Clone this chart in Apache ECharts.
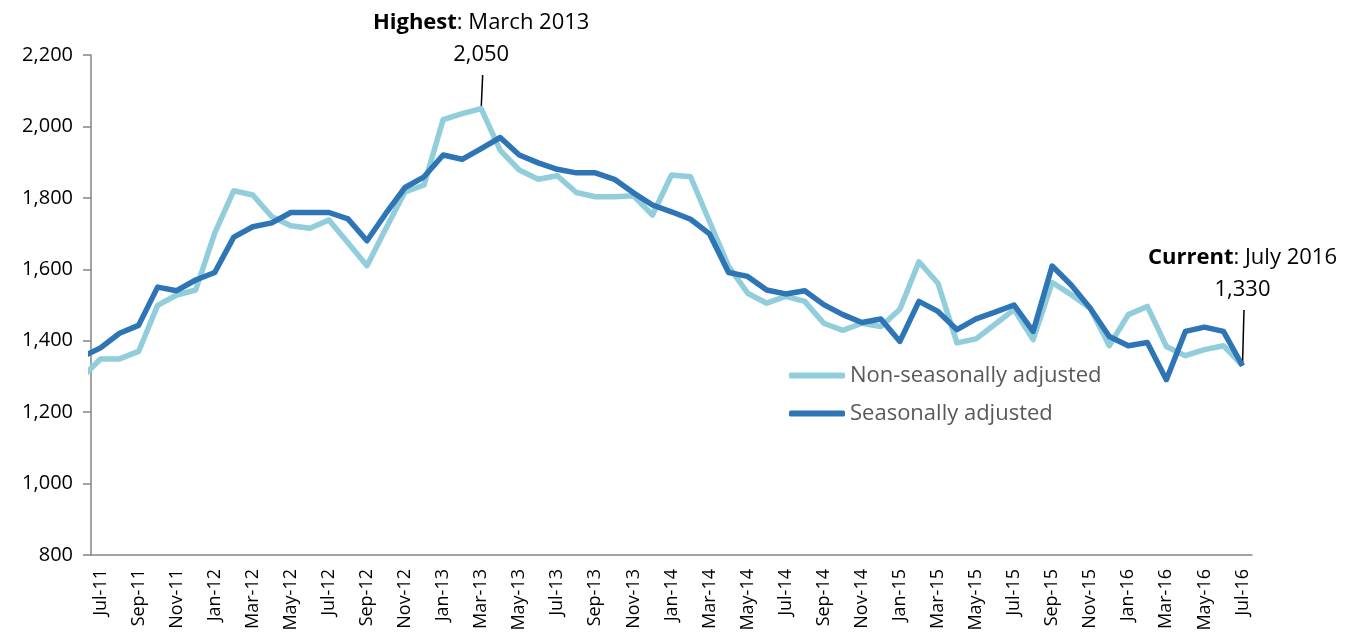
<!DOCTYPE html>
<html>
<head>
<meta charset="utf-8">
<style>
  html, body { margin: 0; padding: 0; background: #fff; }
  #chart { width: 1345px; height: 634px; }
</style>
<script src="https://cdn.jsdelivr.net/npm/echarts@6/dist/echarts.min.js"></script>
</head>
<body>
<div id="chart"></div>
<script>
// Month labels, Jul-11 .. Jul-16
const months = [
    'Jul-11', 'Aug-11', 'Sep-11', 'Oct-11', 'Nov-11', 'Dec-11',
    'Jan-12', 'Feb-12', 'Mar-12', 'Apr-12', 'May-12', 'Jun-12', 'Jul-12', 'Aug-12', 'Sep-12', 'Oct-12', 'Nov-12', 'Dec-12',
    'Jan-13', 'Feb-13', 'Mar-13', 'Apr-13', 'May-13', 'Jun-13', 'Jul-13', 'Aug-13', 'Sep-13', 'Oct-13', 'Nov-13', 'Dec-13',
    'Jan-14', 'Feb-14', 'Mar-14', 'Apr-14', 'May-14', 'Jun-14', 'Jul-14', 'Aug-14', 'Sep-14', 'Oct-14', 'Nov-14', 'Dec-14',
    'Jan-15', 'Feb-15', 'Mar-15', 'Apr-15', 'May-15', 'Jun-15', 'Jul-15', 'Aug-15', 'Sep-15', 'Oct-15', 'Nov-15', 'Dec-15',
    'Jan-16', 'Feb-16', 'Mar-16', 'Apr-16', 'May-16', 'Jun-16', 'Jul-16'
];

// Non-seasonally adjusted
const nonSeasonal = [
    1349, 1349, 1370, 1499, 1528, 1542,
    1701, 1820, 1808, 1747, 1722, 1715, 1738, 1674, 1610, 1715, 1817, 1836,
    2019, 2036, 2050, 1933, 1878, 1852, 1862, 1815, 1803, 1803, 1806, 1752,
    1864, 1859, 1733, 1608, 1533, 1505, 1524, 1510, 1449, 1429, 1449, 1440,
    1488, 1621, 1561, 1394, 1405, 1446, 1487, 1403, 1563, 1529, 1491, 1386,
    1473, 1496, 1384, 1358, 1375, 1386, 1330
];

// Seasonally adjusted
const seasonal = [
    1380, 1421, 1443, 1550, 1540, 1570,
    1591, 1690, 1719, 1730, 1759, 1759, 1759, 1741, 1680, 1757, 1829, 1859,
    1920, 1908, 1938, 1969, 1920, 1898, 1880, 1870, 1870, 1852, 1814, 1780,
    1761, 1740, 1699, 1591, 1580, 1542, 1531, 1540, 1501, 1473, 1451, 1461,
    1398, 1510, 1482, 1431, 1461, 1480, 1500, 1426, 1609, 1556, 1491, 1412,
    1386, 1395, 1291, 1426, 1438, 1426, 1330
];

// Jun-11 values, only the clipped stub left of the axis is visible
const nonSeasonalPrev = 1296;
const seasonalPrev = 1354;

const yTicks = { min: 800, max: 2200, step: 200 };

const highest = { index: 20, title: 'Highest', when: 'March 2013', value: 2050 };
const current = { index: 60, title: 'Current', when: 'July 2016', value: 1330 };

const FONT = 'Open Sans';

function toPoints(prev, values) {
    return [[-1, prev]].concat(values.map((v, i) => [i, v]));
}

const chart = echarts.init(document.getElementById('chart'));

chart.setOption({
    animation: false,
    grid: {
        left: 91, right: 93, top: 55, bottom: 79,
        containLabel: false,
        outerBoundsMode: 'none'
    },
    legend: {
        orient: 'vertical',
        left: 784,
        top: 357,
        itemWidth: 56,
        itemHeight: 6,
        itemGap: 11,
        icon: 'roundRect',
        textStyle: { fontFamily: FONT, fontSize: 22, color: '#595959', lineHeight: 27 },
        data: ['Non-seasonally adjusted', 'Seasonally adjusted']
    },
    xAxis: [{
        type: 'category',
        data: months,
        boundaryGap: true,
        axisLine: { onZero: false, lineStyle: { color: '#868686', width: 1.5 } },
        axisTick: { interval: 1, length: 6, lineStyle: { color: '#868686', width: 1.5 } },
        axisLabel: {
            interval: 1,
            rotate: 90,
            margin: 14,
            fontFamily: FONT,
            fontSize: 18,
            color: '#000'
        },
        splitLine: { show: false }
    }, {
        type: 'value',
        min: -0.5,
        max: months.length - 0.5,
        show: false
    }],
    yAxis: {
        type: 'value',
        min: yTicks.min,
        max: yTicks.max,
        interval: yTicks.step,
        axisLine: { show: true, onZero: false, lineStyle: { color: '#868686', width: 1.5 } },
        axisTick: { show: true, length: 8, lineStyle: { color: '#868686', width: 1.5 } },
        splitLine: { show: false },
        axisLabel: {
            margin: 18,
            fontFamily: FONT,
            fontSize: 20,
            color: '#000',
            formatter: v => v.toLocaleString('en-US')
        }
    },
    series: [{
        name: 'Non-seasonally adjusted',
        type: 'line',
        xAxisIndex: 1,
        data: toPoints(nonSeasonalPrev, nonSeasonal),
        showSymbol: false,
        symbol: 'none',
        clip: true,
        itemStyle: { color: '#92CDDC' },
        lineStyle: { color: '#92CDDC', width: 5.5, join: 'round' }
    }, {
        name: 'Seasonally adjusted',
        type: 'line',
        xAxisIndex: 1,
        data: toPoints(seasonalPrev, seasonal),
        showSymbol: false,
        symbol: 'none',
        clip: true,
        itemStyle: { color: '#2E75B6' },
        lineStyle: { color: '#2E75B6', width: 5.5, join: 'round' }
    }]
});

// Annotations placed from the data point's pixel position
function annotation(note, titleY, valueY, lineTop) {
    const p = chart.convertToPixel({ xAxisIndex: 1, yAxisIndex: 0 }, [note.index, note.value]);
    return [{
        type: 'text',
        x: p[0], y: titleY,
        style: {
            rich: {
                b: { fontFamily: FONT, fontSize: 22, fontWeight: 'bold', fill: '#000' },
                n: { fontFamily: FONT, fontSize: 22, fill: '#000' }
            },
            text: '{b|' + note.title + '}{n|: ' + note.when + '}',
            align: 'center', verticalAlign: 'middle'
        }
    }, {
        type: 'text',
        x: p[0], y: valueY,
        style: {
            text: note.value.toLocaleString('en-US'),
            fontFamily: FONT, fontSize: 22, fill: '#000',
            align: 'center', verticalAlign: 'middle'
        }
    }, {
        type: 'line',
        shape: { x1: p[0] + 1.5, y1: lineTop, x2: p[0], y2: p[1] },
        style: { stroke: '#000', lineWidth: 1.5 }
    }];
}

chart.setOption({
    graphic: annotation(highest, 23, 55, 75).concat(annotation(current, 258, 290, 310))
});
</script>
</body>
</html>
